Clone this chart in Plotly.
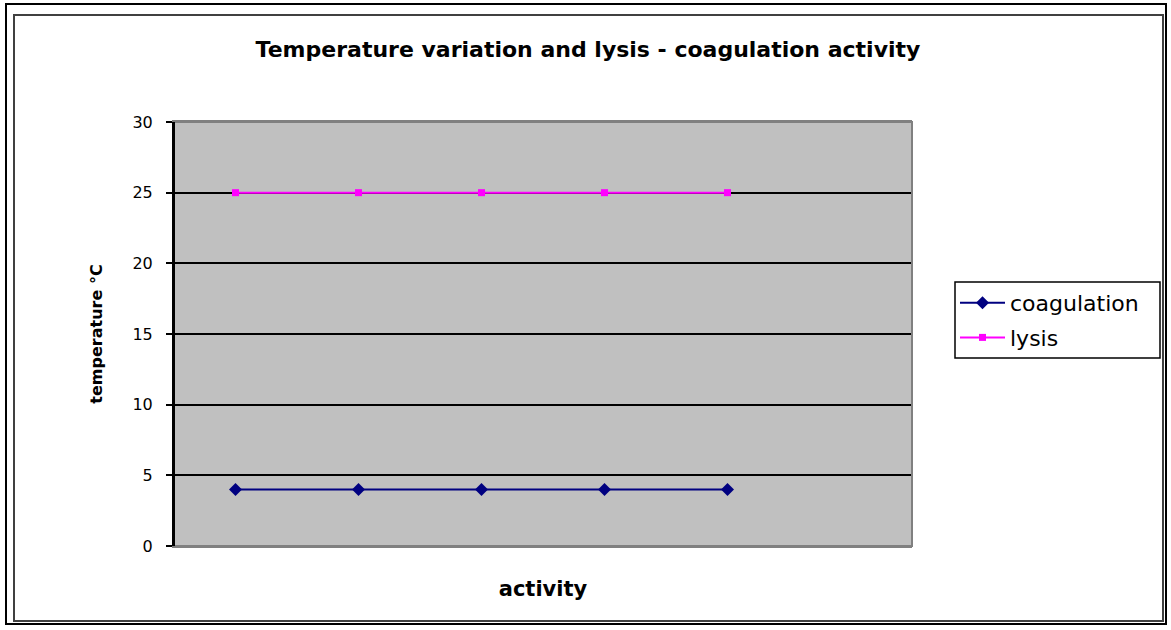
import plotly.graph_objects as go

# ---- data ----
activity = [1, 2, 3, 4, 5]
coagulation = [4, 4, 4, 4, 4]
lysis = [25, 25, 25, 25, 25]
series_names = ["coagulation", "lysis"]
y_ticks = [0, 5, 10, 15, 20, 25, 30]

W, H = 1171, 630
L, R, T, B = 174, 912, 122, 546  # plot area in px

def px_x(p):
    return (p - L) / (R - L)

def px_y(p):
    return (B - p) / (B - T)

FONT = "DejaVu Sans"

fig = go.Figure()
fig.add_trace(go.Scatter(
    x=activity, y=coagulation, name=series_names[0], mode="lines+markers",
    line=dict(color="#000080", width=2),
    marker=dict(symbol="diamond", size=10, color="#000080"),
    legendgroup="a",
))
fig.add_trace(go.Scatter(
    x=activity, y=lysis, name=series_names[1], mode="lines+markers",
    line=dict(color="#FF00FF", width=2),
    marker=dict(symbol="square", size=7, color="#FF00FF"),
    legendgroup="b",
))

fig.update_layout(
    width=W, height=H,
    margin=dict(l=L, r=W - R, t=T, b=H - B, pad=0),
    paper_bgcolor="white",
    plot_bgcolor="#C0C0C0",
    title=dict(
        text="<b>Temperature variation and lysis - coagulation activity</b>",
        x=588 / W, xref="container", xanchor="center",
        y=1 - 49 / H, yref="container", yanchor="middle",
        font=dict(family=FONT, size=22, color="black"),
    ),
    xaxis=dict(
        range=[0.5, 6.5], showticklabels=False, ticks="", showgrid=False,
        zeroline=False, showline=True, mirror=True, linecolor="#808080", linewidth=2,
        title=dict(text="<b>activity</b>", font=dict(family=FONT, size=21, color="black"), standoff=34),
    ),
    yaxis=dict(
        range=[0, 30], tickvals=y_ticks, ticks="outside", ticklen=6, tickwidth=2,
        tickcolor="black", showgrid=True, gridcolor="black", gridwidth=1.5,
        zeroline=False, showline=True, linecolor="black", linewidth=2,
        ticklabelstandoff=10,
        tickfont=dict(family=FONT, size=16, color="black"),
        title=dict(text="<b>temperature °C</b>", font=dict(family=FONT, size=16, color="black"), standoff=26),
    ),
    legend=dict(
        x=px_x(955), y=px_y(282), xanchor="left", yanchor="top",
        bgcolor="rgba(0,0,0,0)", borderwidth=0,
        font=dict(family=FONT, size=22, color="black"),
        tracegroupgap=3, itemwidth=45,
    ),
    showlegend=True,
)

# plot area gray border (right/top)
fig.add_shape(type="rect", xref="x domain", yref="y domain", x0=0, x1=1, y0=0, y1=1,
              line=dict(color="#808080", width=2), fillcolor="rgba(0,0,0,0)", layer="above")
# redraw black y axis over border
fig.add_shape(type="line", xref="x domain", yref="y domain", x0=0, x1=0, y0=0, y1=1,
              line=dict(color="black", width=2), layer="above")

# legend frame
fig.add_shape(type="rect", xref="paper", yref="paper",
              x0=px_x(955), x1=px_x(1160), y0=px_y(358), y1=px_y(282),
              line=dict(color="black", width=1.5), fillcolor="white", layer="above")

# chart frame borders
fig.add_shape(type="rect", xref="paper", yref="paper",
              x0=px_x(6), x1=px_x(1166), y0=px_y(624), y1=px_y(4),
              line=dict(color="black", width=2), fillcolor="rgba(0,0,0,0)", layer="above")
fig.add_shape(type="rect", xref="paper", yref="paper",
              x0=px_x(14), x1=px_x(1163), y0=px_y(621), y1=px_y(15),
              line=dict(color="#404040", width=2), fillcolor="rgba(0,0,0,0)", layer="above")

fig.write_html("out.html", config={"displayModeBar": False},
               post_script="document.body.style.margin='0';")
